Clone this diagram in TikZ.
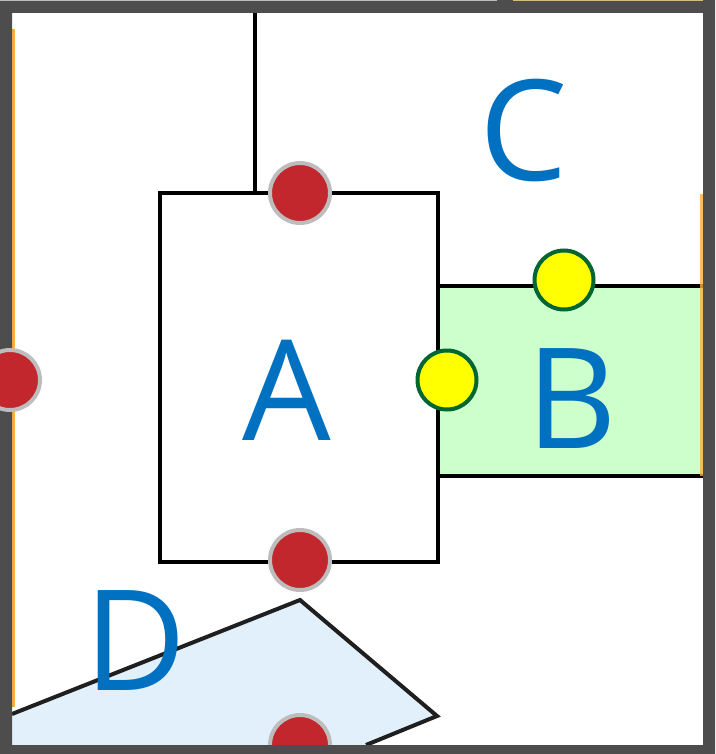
\documentclass[tikz,border=0pt]{standalone}
\usepackage{fontspec}
\setmainfont{Open Sans}
\definecolor{frame}{HTML}{4D4D4D}
\definecolor{redfill}{HTML}{C1272D}
\definecolor{redline}{HTML}{BDBDBD}
\definecolor{yelfill}{HTML}{FFFF00}
\definecolor{yelline}{HTML}{006633}
\definecolor{bfill}{HTML}{CCFFCC}
\definecolor{dfill}{HTML}{E1F0FB}
\definecolor{lettercol}{HTML}{0070C0}
\definecolor{orangeln}{HTML}{FBB03B}
\definecolor{tanln}{HTML}{D9B982}
\tikzset{
  wall/.style={line width=4pt, draw=black},
  reddot/.style={circle, fill=redfill, draw=redline, line width=4pt, minimum size=60pt, inner sep=0pt},
  yeldot/.style={circle, fill=yelfill, draw=yelline, line width=4pt, minimum size=59pt, inner sep=0pt},
  letter/.style={text=lettercol, inner sep=0pt, anchor=base, font=\fontsize{140}{140}\selectfont},
}
\begin{document}
\begin{tikzpicture}[x=1pt,y=-1pt]
\useasboundingbox (0,0) rectangle (715,754);
\fill[white] (0,0) rectangle (715,754);
% polygon D
\coordinate (d1) at (12,714);
\coordinate (d2) at (300,600);
\coordinate (d3) at (437,716);
\coordinate (d4) at (366,745);
\coordinate (d5) at (366,754);
\coordinate (d6) at (12,754);
\fill[dfill] (d1) -- (d2) -- (d3) -- (d4) -- (d5) -- (d6) -- cycle;
\draw[line width=4pt, draw=black!88, line join=miter] (d1) -- (d2) -- (d3) -- (d4);
% box B
\coordinate (b1) at (438,286);
\coordinate (b2) at (703,286);
\coordinate (b3) at (703,476);
\coordinate (b4) at (438,476);
\fill[bfill] (b1) rectangle (b3);
\draw[wall] (b1) -- (b2);
\draw[wall] (b4) -- (b3);
% box A
\coordinate (a1) at (160,193);
\coordinate (a3) at (438,562);
\draw[wall] (a1) rectangle (a3);
% line from top
\coordinate (t1) at (255,13);
\coordinate (t2) at (255,193);
\draw[wall] (t1) -- (t2);
% orange lines
\coordinate (o1) at (13.5,29);
\coordinate (o2) at (13.5,707);
\draw[orangeln, line width=3pt] (o1) -- (o2);
\coordinate (o3) at (701.5,194);
\coordinate (o4) at (701.5,476);
\draw[orangeln, line width=3pt, opacity=0.8] (o3) -- (o4);
% bottom red dot (under frame)
\node[reddot] (rb) at (300,745) {};
% frame
\fill[frame, even odd rule] (0,0) rectangle (715,754) (12,13) rectangle (703,745);
\coordinate (g1) at (0,0.5);
\coordinate (g2) at (497,0.5);
\draw[redline, line width=1pt] (g1) -- (g2);
\coordinate (g3) at (513,0.5);
\coordinate (g4) at (703,0.5);
\draw[tanln, line width=1.5pt] (g3) -- (g4);
% dots
\node[reddot] (rt) at (300,193) {};
\node[reddot] (rm) at (300,560) {};
\node[reddot] (rl) at (10,380) {};
\node[yeldot] (yt) at (564,280) {};
\node[yeldot] (yl) at (447,380) {};
% letters
\node[letter] (lA) at (287,440) {A};
\node[letter] (lB) at (572,448) {B};
\node[letter] (lC) at (524,180) {C};
\node[letter] (lD) at (136,690) {D};
\end{tikzpicture}
\end{document}
